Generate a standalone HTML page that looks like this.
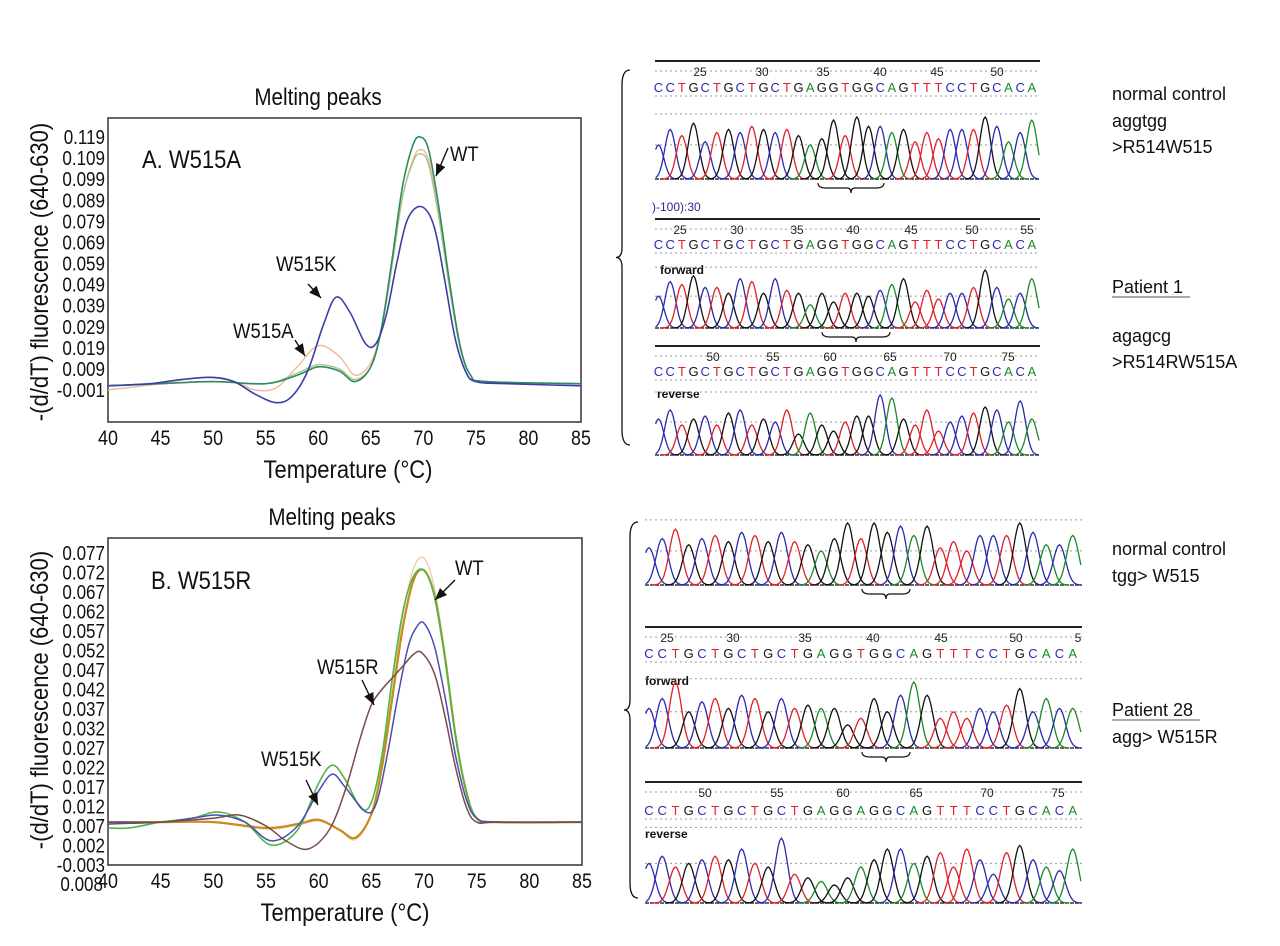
<!DOCTYPE html>
<html><head><meta charset="utf-8"><style>
html,body{margin:0;padding:0;background:#fff;}
svg{display:block;font-family:"Liberation Sans",sans-serif;}
.rl{font-family:"Liberation Sans",sans-serif;font-size:18px;fill:#111;}
</style></head><body>
<svg id="fig" width="1280" height="946" viewBox="0 0 1280 946" xmlns="http://www.w3.org/2000/svg">
<g>
<text class="rl" x="1112" y="100">normal control</text>
<text class="rl" x="1112" y="127">aggtgg</text>
<text class="rl" x="1112" y="153">&gt;R514W515</text>
<text class="rl" x="1112" y="293">Patient 1</text>
<line x1="1112" y1="297" x2="1190" y2="297" stroke="#555" stroke-width="1"/>
<text class="rl" x="1112" y="342">agagcg</text>
<text class="rl" x="1112" y="368">&gt;R514RW515A</text>
<text class="rl" x="1112" y="555">normal control</text>
<text class="rl" x="1112" y="582">tgg&gt; W515</text>
<text class="rl" x="1112" y="716">Patient 28</text>
<line x1="1112" y1="720" x2="1200" y2="720" stroke="#555" stroke-width="1"/>
<text class="rl" x="1112" y="743">agg&gt; W515R</text>
</g>
</svg>
<script>
// ---------- Chart A data ----------
const tickA = ["0.119","0.109","0.099","0.089","0.079","0.069","0.059","0.049","0.039","0.029","0.019","0.009","-0.001"];
const tickAVals = [0.119,0.109,0.099,0.089,0.079,0.069,0.059,0.049,0.039,0.029,0.019,0.009,-0.001];
const xTicks = [40,45,50,55,60,65,70,75,80,85];
const blueA_T = [40,44,47,50,52,54,56,57.5,59,60.5,61.7,63,64.5,65.5,66.5,67.5,68.5,69.8,71,72,73,74,75,78,85];
const blueA_V = [0.001,0.002,0.004,0.005,0.003,-0.003,-0.007,-0.004,0.008,0.030,0.043,0.036,0.021,0.021,0.035,0.060,0.080,0.086,0.077,0.052,0.024,0.008,0.003,0.002,0.001];
const greenA_T = [40,45,50,55,58,60,62,63.5,65,66,67,68,69,69.7,70.5,71.5,72.5,73.5,74.5,76,85];
const greenA_V = [0.001,0.002,0.003,0.002,0.006,0.010,0.008,0.003,0.010,0.028,0.060,0.095,0.115,0.119,0.113,0.085,0.050,0.020,0.006,0.003,0.002];
const lgreenA_V = [0.001,0.002,0.003,0.002,0.007,0.011,0.009,0.004,0.010,0.027,0.057,0.090,0.107,0.111,0.106,0.080,0.047,0.019,0.006,0.003,0.002];
const orangeA_T = [40,45,49,52,54,56,58,60,62,63.5,65,66,67,68,69,69.7,70.5,71.5,72.5,73.5,74.5,76,85];
const orangeA_V = [-0.001,0.002,0.005,0.003,-0.001,0.000,0.010,0.020,0.015,0.006,0.012,0.028,0.058,0.090,0.108,0.113,0.108,0.082,0.048,0.019,0.006,0.003,0.002];
// ---------- Chart B data ----------
const tickB = ["0.077","0.072","0.067","0.062","0.057","0.052","0.047","0.042","0.037","0.032","0.027","0.022","0.017","0.012","0.007","0.002","-0.003"];
const tickBVals = [0.077,0.072,0.067,0.062,0.057,0.052,0.047,0.042,0.037,0.032,0.027,0.022,0.017,0.012,0.007,0.002,-0.003];
const wtB_T = [40,45,50,55,58,60,62,63.5,65,66,67,68,69,70,71,72,73,74,75,77,85];
const wtB_V = [0.008,0.008,0.008,0.0065,0.0075,0.0086,0.006,0.004,0.010,0.022,0.040,0.058,0.070,0.0726,0.066,0.050,0.030,0.016,0.009,0.008,0.008];
const peachB_V = [0.008,0.008,0.008,0.0062,0.0072,0.0083,0.0058,0.0035,0.010,0.023,0.042,0.061,0.073,0.0757,0.068,0.051,0.030,0.016,0.009,0.008,0.008];
const greenB_T = [40,42,45,48,50.5,53,55.5,58,60,61.3,62.5,64,65,66,67,68,69,70,71,72,73,74,75,77,85];
const greenB_V = [0.0065,0.0065,0.008,0.009,0.0106,0.008,0.0021,0.006,0.018,0.0226,0.019,0.0116,0.013,0.025,0.045,0.062,0.071,0.0725,0.066,0.050,0.030,0.016,0.009,0.008,0.008];
const blueB_T = [40,45,48,50.5,53,55.5,58,60,61.3,62.5,64.5,65.5,66.5,67.5,68.5,69.3,70,71,72,73,74,75,77,85];
const blueB_V = [0.008,0.008,0.009,0.0098,0.008,0.0032,0.007,0.016,0.0203,0.017,0.0106,0.013,0.025,0.040,0.053,0.058,0.059,0.053,0.040,0.025,0.014,0.009,0.008,0.008];
const brownB_T = [40,45,50,52.5,55,57,59,61,62.5,64,65,66,67,68,69,69.8,71,72,73,74,75,77,85];
const brownB_V = [0.0075,0.008,0.009,0.0098,0.007,0.003,0.0011,0.006,0.016,0.030,0.038,0.042,0.045,0.048,0.051,0.0514,0.046,0.035,0.022,0.012,0.008,0.008,0.008];
// ---------- Chromatogram data ----------
const seqRef = "CCTGCTGCTGCTGAGGTGGCAGTTTCCTGCACA";
const seqB3 = "CCTGCTGCTGCTGAGGAGGCAGTTTCCTGCACA";
const hA1 = [0.55,0.8,0.7,0.9,0.6,0.75,0.8,0.75,0.85,0.8,0.75,0.8,0.7,0.55,0.65,0.95,0.7,1.0,0.85,0.85,0.75,0.8,0.6,0.75,0.65,0.8,0.8,0.8,1.0,0.85,0.6,0.75,0.95];
const hA2 = [0.55,0.8,0.75,0.9,0.7,0.7,0.6,0.85,0.8,0.6,0.85,0.65,0.6,0.4,0.6,0.45,0.6,0.6,0.55,0.65,0.75,0.85,0.45,0.65,0.5,0.6,0.6,0.7,1.0,0.7,0.5,0.6,0.85];
const hA3 = [0.6,0.75,0.5,0.6,0.65,0.5,0.7,0.75,0.5,0.6,0.55,0.75,0.35,0.7,0.5,0.4,0.55,0.65,0.65,1.0,0.95,0.6,0.5,0.75,0.4,0.55,0.65,0.7,0.8,0.75,0.55,0.9,0.6];
const hB1 = [0.6,0.75,0.9,0.65,0.75,0.8,0.7,0.85,0.8,0.7,0.85,0.7,0.65,0.55,0.75,1.0,0.75,1.0,0.85,0.95,0.8,0.95,0.6,0.7,0.55,0.8,0.8,0.8,1.0,0.85,0.65,0.65,0.8];
const hB2 = [0.6,0.75,1.0,0.55,0.7,0.75,0.6,0.8,0.75,0.55,0.75,0.6,0.65,0.6,0.6,0.35,0.45,0.75,0.55,0.8,1.0,0.8,0.45,0.55,0.45,0.6,0.55,0.65,0.9,0.55,0.75,0.6,0.6];
const hB3 = [0.55,0.65,0.5,0.55,0.6,0.65,0.6,0.75,0.55,0.5,0.9,0.4,0.35,0.3,0.25,0.35,0.5,0.6,0.75,0.75,0.55,0.65,0.7,0.5,0.75,0.6,0.4,0.7,0.8,0.6,0.5,0.45,0.75];
const numA1 = ["25","30","35","40","45","50"];
const numA2 = ["25","30","35","40","45","50","55"];
const numA3 = ["50","55","60","65","70","75"];
const numB2 = ["25","30","35","40","45","50","5"];
const numB3 = ["50","55","60","65","70","75"];

const NS = "http://www.w3.org/2000/svg";
const svg = document.getElementById('fig');
function mk(tag, attrs, name, parent) {
  const el = document.createElementNS(NS, tag);
  for (const k in attrs) el.setAttribute(k, attrs[k]);
  
  
  (parent || svg).appendChild(el);
  return el;
}
function cond(el, txt, f) {
  el.textContent = txt;
  const w = el.getComputedTextLength();
  if (w > 0) { el.setAttribute('textLength', (w * (f || 0.85)).toFixed(1)); el.setAttribute('lengthAdjust', 'spacingAndGlyphs'); }
  return el;
}
function smooth(pts) {
  let d = "M" + pts[0][0].toFixed(1) + "," + pts[0][1].toFixed(1);
  for (let i = 0; i < pts.length - 1; i++) {
    const p0 = pts[Math.max(0, i - 1)], p1 = pts[i], p2 = pts[i + 1], p3 = pts[Math.min(pts.length - 1, i + 2)];
    const c1x = p1[0] + (p2[0] - p0[0]) / 6, c1y = p1[1] + (p2[1] - p0[1]) / 6;
    const c2x = p2[0] - (p3[0] - p1[0]) / 6, c2y = p2[1] - (p3[1] - p1[1]) / 6;
    d += "C" + c1x.toFixed(1) + "," + c1y.toFixed(1) + " " + c2x.toFixed(1) + "," + c2y.toFixed(1) + " " + p2[0].toFixed(1) + "," + p2[1].toFixed(1);
  }
  return d;
}
function chart(cfg) {
  const g = mk('g', {}, cfg.name);
  const xs = t => cfg.x0 + (t - 40) / 45 * (cfg.x1 - cfg.x0);
  const ys = v => cfg.yTop + (cfg.vTop - v) / (cfg.vTop - cfg.vBot) * (cfg.yBot - cfg.yTop);
  mk('rect', {x: cfg.x0, y: cfg.boxTop, width: cfg.x1 - cfg.x0, height: cfg.boxBot - cfg.boxTop, fill: '#fff', stroke: '#333', 'stroke-width': 1.5}, 'plot-frame', g);
  cond(mk('text', {x: cfg.titleX, y: cfg.boxTop - 13, 'text-anchor': 'middle', 'font-size': 24, fill: '#111'}, 'chart-title', g), 'Melting peaks', 0.86);
  cfg.ticks.forEach((lab, i) => {
    cond(mk('text', {x: cfg.x0 - 3, y: ys(cfg.tickVals[i]) + 7, 'text-anchor': 'end', 'font-size': 20, fill: '#111'}, 'y-tick-label', g), lab, 0.85);
  });
  xTicks.forEach(t => {
    cond(mk('text', {x: xs(t), y: cfg.boxBot + 23, 'text-anchor': 'middle', 'font-size': 21, fill: '#111'}, 'x-tick-label', g), String(t), 0.85);
  });
  cond(mk('text', {x: cfg.xtX, y: cfg.boxBot + 56, 'text-anchor': 'middle', 'font-size': 25, fill: '#111'}, 'x-axis-title', g), 'Temperature (°C)', 0.88);
  const yt = mk('text', {x: 0, y: 0, 'text-anchor': 'middle', 'font-size': 25, fill: '#111', transform: 'translate(' + (cfg.x0 - 60) + ',' + cfg.ytY + ') rotate(-90)'}, 'y-axis-title', g);
  cond(yt, '-(d/dT) fluorescence (640-630)', 0.88);
  cfg.series.forEach(s => {
    const pts = s.T.map((t, i) => [xs(t), ys(s.V[i])]);
    mk('path', {d: smooth(pts), fill: 'none', stroke: s.color, 'stroke-width': s.w || 1.6}, s.name, g);
  });
  return g;
}
chart({name: 'chart-a', x0: 108, x1: 581, boxTop: 118, boxBot: 422, yTop: 137, yBot: 390, vTop: 0.119, vBot: -0.001,
  titleX: 318, xtX: 348, ytY: 272,
  ticks: tickA, tickVals: tickAVals,
  series: [
    {name: 'series-orange-a', T: orangeA_T, V: orangeA_V, color: '#f0b89a', w: 1.4},
    {name: 'series-lightgreen-a', T: greenA_T, V: lgreenA_V, color: '#a9c48a', w: 1.4},
    {name: 'series-green-a', T: greenA_T, V: greenA_V, color: '#2e8a5e', w: 1.6},
    {name: 'series-blue-a', T: blueA_T, V: blueA_V, color: '#3a3fa8', w: 1.6}
  ]});
chart({name: 'chart-b', x0: 108, x1: 582, boxTop: 538, boxBot: 865, yTop: 553, yBot: 865, vTop: 0.077, vBot: -0.003,
  titleX: 332, xtX: 345, ytY: 700,
  ticks: tickB, tickVals: tickBVals,
  series: [
    {name: 'series-peach-b', T: wtB_T, V: peachB_V, color: '#f3c7a8', w: 1.3},
    {name: 'series-wt-b', T: wtB_T, V: wtB_V, color: '#c98a1e', w: 2.2},
    {name: 'series-green-b', T: greenB_T, V: greenB_V, color: '#4cb848', w: 1.6},
    {name: 'series-blue-b', T: blueB_T, V: blueB_V, color: '#4a4fb0', w: 1.5},
    {name: 'series-brown-b', T: brownB_T, V: brownB_V, color: '#7a4a4a', w: 1.5}
  ]});
cond(mk('text', {x: 103, y: 891, 'text-anchor': 'end', 'font-size': 20, fill: '#111'}, 'y-tick-label-extra', svg), '0.008', 0.85);

// annotations
const ann = [
  ['label-a-panel', 'A. W515A', 142, 168, 25], ['label-wt-a', 'WT', 450, 161, 21], ['label-w515k-a', 'W515K', 276, 271, 21], ['label-w515a-a', 'W515A', 233, 338, 21],
  ['label-b-panel', 'B. W515R', 151, 589, 25], ['label-wt-b', 'WT', 455, 575, 21], ['label-w515r-b', 'W515R', 317, 674, 21], ['label-w515k-b', 'W515K', 261, 766, 21]
];
ann.forEach(a => { cond(mk('text', {x: a[2], y: a[3], 'font-size': a[4], fill: '#111'}, a[0], svg), a[1], 0.88); });
const arrows = [[448,148,436,176],[308,284,321,298],[295,340,305,356],[455,580,435,600],[362,680,374,705],[306,780,318,805]];
arrows.forEach(a => {
  const g = mk('g', {}, 'annotation-arrow', svg);
  mk('line', {x1: a[0], y1: a[1], x2: a[2], y2: a[3], stroke: '#111', 'stroke-width': 1.4}, 'arrow-shaft', g);
  const ang = Math.atan2(a[3] - a[1], a[2] - a[0]), L = 12, W = 5;
  const bx = a[2] - L * Math.cos(ang), by = a[3] - L * Math.sin(ang);
  const p = [[a[2], a[3]], [bx + W * Math.sin(ang), by - W * Math.cos(ang)], [bx - W * Math.sin(ang), by + W * Math.cos(ang)]];
  mk('polygon', {points: p.map(q => q.join(',')).join(' '), fill: '#111'}, 'arrow-head', g);
});

// chromatograms
const baseColor = {A: '#1a8a2a', C: '#2a2ab0', G: '#111', T: '#e0202a'};
function dotted(x0, x1, y, g) { mk('line', {x1: x0, y1: y, x2: x1, y2: y, stroke: '#999', 'stroke-width': 1, 'stroke-dasharray': '2,3'}, 'grid-dotted', g); }
function trace(name, x0, x1, base, amp, seq, h, brace) {
  const g = mk('g', {}, name);
  dotted(x0, x1, base - amp * 1.05, g);
  dotted(x0, x1, base - amp * 0.55, g);
  mk('line', {x1: x0, y1: base, x2: x1, y2: base, stroke: '#333', 'stroke-width': 1.5, 'stroke-dasharray': '4,1'}, 'trace-baseline', g);
  const n = seq.length, sp = (x1 - x0) / n;
  for (let i = 0; i < n; i++) {
    const cx = x0 + sp * (i + 0.3), sg = sp * 0.62;
    let d = '';
    for (let k = -14; k <= 14; k++) {
      const x = cx + k * sg / 5;
      if (x < x0 || x > x1) continue;
      const y = base - amp * h[i] * Math.exp(-(k / 5) * (k / 5) / 1.1);
      d += (d ? 'L' : 'M') + x.toFixed(1) + ',' + y.toFixed(1);
    }
    mk('path', {d: d, fill: 'none', stroke: baseColor[seq[i]], 'stroke-width': 1.3}, 'peak-' + seq[i], g);
  }
  if (brace) {
    const [bx0, bx1] = brace, by = base + 4, m = (bx0 + bx1) / 2;
    mk('path', {d: `M${bx0},${by} Q${bx0},${by+5} ${bx0+8},${by+5} L${m-4},${by+5} Q${m},${by+5} ${m},${by+10} Q${m},${by+5} ${m+4},${by+5} L${bx1-8},${by+5} Q${bx1},${by+5} ${bx1},${by}`, fill: 'none', stroke: '#111', 'stroke-width': 1.2}, 'underbrace', g);
  }
}
function header(name, x0, x1, lineY, nums, numXs, seq, seqY) {
  const g = mk('g', {}, name);
  mk('line', {x1: x0, y1: lineY, x2: x1, y2: lineY, stroke: '#222', 'stroke-width': 2}, 'header-line', g);
  dotted(x0, x1, lineY + 10, g);
  dotted(x0, x1, seqY + 9, g);
  nums.forEach((t, i) => { mk('text', {x: numXs[i], y: lineY + 15, 'text-anchor': 'middle', 'font-size': 12, fill: '#222'}, 'position-number', g).textContent = t; });
  const sp = (x1 - x0) / seq.length;
  for (let i = 0; i < seq.length; i++) {
    mk('text', {x: x0 + sp * (i + 0.3), y: seqY + 5, 'text-anchor': 'middle', 'font-size': 13, fill: baseColor[seq[i]]}, 'base-call', g).textContent = seq[i];
  }
}
function label(t, x, y) { mk('text', {x: x, y: y, 'font-size': 12, 'font-weight': 'bold', fill: '#111'}, 'trace-label-' + t, svg).textContent = t; }
function curly(x, y0, y1) {
  const m = (y0 + y1) / 2;
  mk('path', {d: `M${x+8},${y0} Q${x},${y0} ${x},${y0+15} L${x},${m-10} Q${x},${m} ${x-6},${m} Q${x},${m} ${x},${m+10} L${x},${y1-15} Q${x},${y1} ${x+8},${y1}`, fill: 'none', stroke: '#111', 'stroke-width': 1.3}, 'left-brace', svg);
}
// top right group
curly(622, 70, 445);
header('header-a1', 655, 1040, 61, numA1, [700,762,823,880,937,997], seqRef, 87);
trace('trace-a1-control', 655, 1040, 179, 62, seqRef, hA1, [818, 884]);
mk('text', {x: 652, y: 211, 'font-size': 12, fill: '#2a2a90'}, 'trace-range-label', svg).textContent = ')-100):30';
header('header-a2', 655, 1040, 219, numA2, [680,737,797,853,911,972,1027], seqRef, 244);
label('forward', 660, 274);
trace('trace-a2-forward', 655, 1040, 328, 58, seqRef, hA2, [822, 890]);
header('header-a3', 655, 1040, 346, numA3, [713,773,830,890,950,1008], seqRef, 371);
label('reverse', 657, 398);
trace('trace-a3-reverse', 655, 1040, 455, 60, seqRef, hA3, null);
// bottom right group
curly(630, 522, 898);
trace('trace-b1-control', 645, 1082, 585, 62, seqRef, hB1, [862, 910]);
header('header-b2', 645, 1082, 627, numB2, [667,733,805,873,941,1016,1078], seqRef, 653);
label('forward', 645, 685);
trace('trace-b2-forward', 645, 1082, 748, 66, seqRef, hB2, [862, 910]);
header('header-b3', 645, 1082, 782, numB3, [705,777,843,916,987,1058], seqB3, 810);
label('reverse', 645, 838);
trace('trace-b3-reverse', 645, 1082, 903, 72, seqB3, hB3, null);
</script>
</body></html>
